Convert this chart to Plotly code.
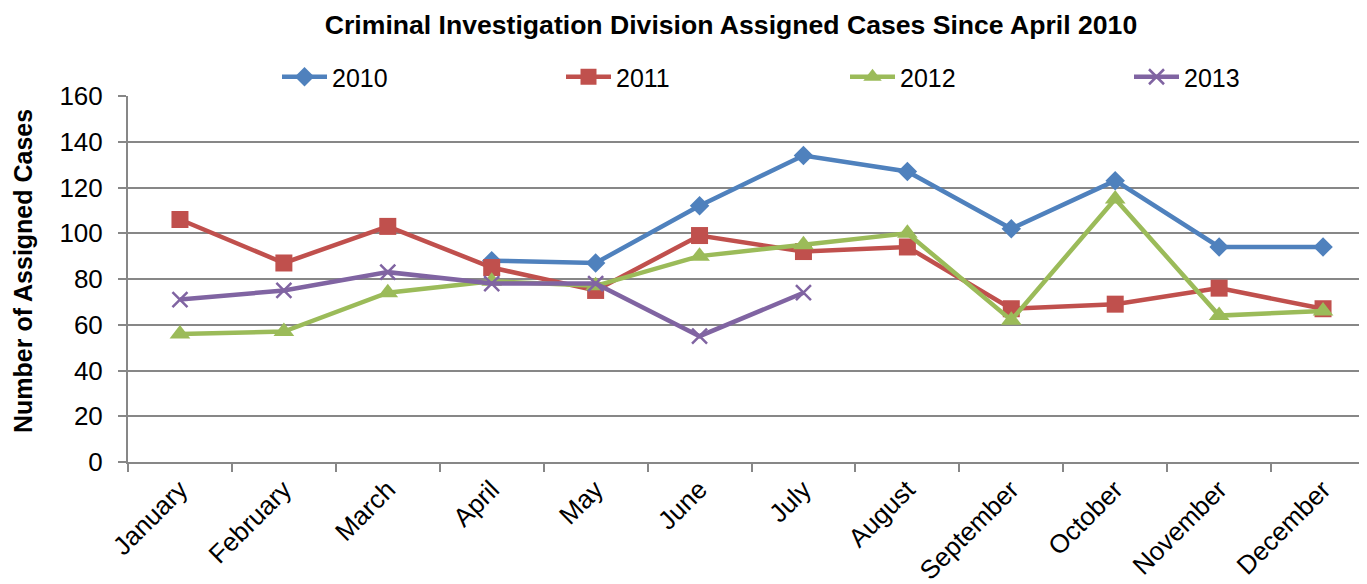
import plotly.graph_objects as go

months = ["January", "February", "March", "April", "May", "June", "July",
          "August", "September", "October", "November", "December"]
y2010 = [None, None, None, 88, 87, 112, 134, 127, 102, 123, 94, 94]
y2011 = [106, 87, 103, 85, 75, 99, 92, 94, 67, 69, 76, 67]
y2012 = [56, 57, 74, 79, 77, 90, 95, 100, 62, 115, 64, 66]
y2013 = [71, 75, 83, 78, 78, 55, 74, None, None, None, None, None]

FONT = "Liberation Sans, Arial, sans-serif"
GRID = "#878787"
W, H = 1367, 584

fig = go.Figure()
series = [
    ("2010", y2010, "#4F81BD", dict(symbol="diamond", size=15), "legend", 273),
    ("2011", y2011, "#C0504D", dict(symbol="square", size=17), "legend2", 557),
    ("2012", y2012, "#9BBB59", dict(symbol="triangle-up", size=18), "legend3", 841),
    ("2013", y2013, "#8064A2", dict(symbol="x-thin", size=15, line=dict(width=2.5, color="#8064A2")), "legend4", 1125),
]
legends = {}
for name, ys, col, mk, lg, lx in series:
    mk = dict(mk)
    mk["color"] = col
    fig.add_trace(go.Scatter(
        x=months, y=ys, name=name, mode="lines+markers",
        line=dict(color=col, width=4.5), marker=mk, connectgaps=False,
        legend=lg,
    ))
    legends[lg] = dict(
        orientation="h", xref="container", yref="container",
        x=(lx - 4) / W, xanchor="left", y=1 - 69 / H, yanchor="middle",
        font=dict(size=25, family=FONT), bgcolor="rgba(0,0,0,0)",
        itemwidth=45,
    )

fig.update_layout(
    width=W, height=H,
    margin=dict(l=120, r=0, t=88, b=130, autoexpand=False),
    paper_bgcolor="white", plot_bgcolor="white",
    font=dict(family=FONT, color="black"),
    title=dict(text="<b>Criminal Investigation Division Assigned Cases Since April 2010</b>",
               xref="container", yref="container",
               x=723 / W, xanchor="center", y=1 - 17 / H, yanchor="middle",
               font=dict(size=26.6, family=FONT)),
    showlegend=True,
    annotations=[dict(
        text="<b>Number of Assigned Cases</b>", textangle=-90,
        xref="paper", yref="paper", x=(15 - 120) / (W - 120), y=(H - 130 - 263) / (H - 88 - 130),
        xanchor="center", yanchor="middle", showarrow=False,
        font=dict(size=25, family=FONT, color="black"),
    )],
    **legends,
)
fig.update_xaxes(
    type="category", range=[-0.5, 11.5], automargin=False,
    showline=True, linecolor=GRID, linewidth=2,
    ticks="outside", ticklen=8, tickcolor=GRID, tickwidth=2, tickson="boundaries",
    tickangle=-45, tickfont=dict(size=26, family=FONT),
    showgrid=False, zeroline=False,
)
fig.update_yaxes(
    range=[0, 160], dtick=20, automargin=False,
    showline=True, linecolor=GRID, linewidth=2,
    ticks="outside", ticklen=8, tickcolor=GRID, tickwidth=2,
    ticklabelstandoff=10,
    showgrid=True, gridcolor=GRID, gridwidth=2, zeroline=False,
    tickfont=dict(size=26, family=FONT),
)

fig.write_html("out.html")
